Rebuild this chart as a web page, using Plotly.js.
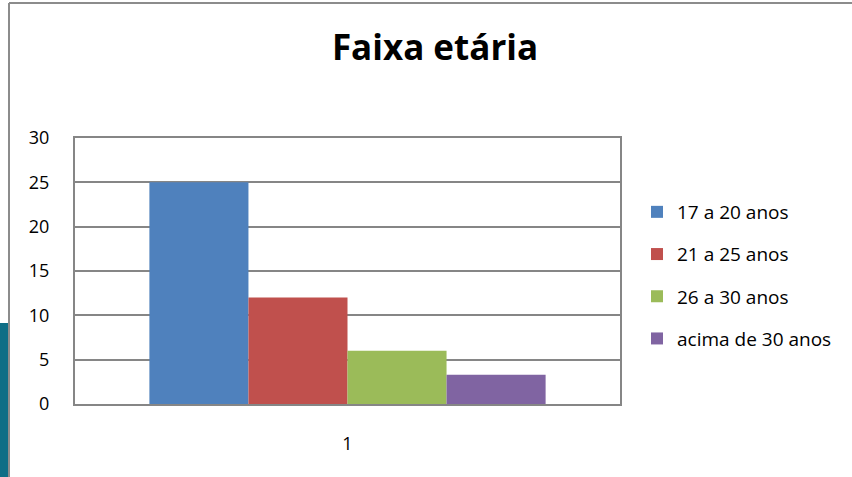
<!DOCTYPE html>
<html>
<head>
<meta charset="utf-8">
<script src="https://cdn.plot.ly/plotly-3.0.1.min.js"></script>
<style>
  html, body { margin: 0; padding: 0; background: #ffffff; }
  #chart { width: 852px; height: 477px; }
</style>
</head>
<body>
<div id="chart"></div>
<script>
const chartTitle = "Faixa etária";
const categories = ["1"];
const seriesNames = ["17 a 20 anos", "21 a 25 anos", "26 a 30 anos", "acima de 30 anos"];
const seriesValues = [[25], [12], [6], [3.3]];
const seriesColors = ["#4F81BD", "#C0504D", "#9BBB59", "#8064A2"];
const yTicks = [0, 5, 10, 15, 20, 25, 30];

const FONT = "'Open Sans', 'Noto Sans', sans-serif";

const traces = seriesNames.map((name, i) => ({
  type: "bar",
  name: name,
  x: categories,
  y: seriesValues[i],
  marker: { color: seriesColors[i], line: { width: 0 } },
  legendgroup: "g" + i,
  hoverinfo: "skip"
}));

// plot area: x 75..620, y 138..404 (px)
const L = 75, R = 620, T = 138, B = 404, W = 852, H = 477;
const px = v => (v - L) / (R - L);
const py = v => (B - v) / (B - T);

const layout = {
  width: W, height: H,
  margin: { l: L, r: W - R, t: T, b: H - B, pad: 0 },
  paper_bgcolor: "#ffffff",
  plot_bgcolor: "#ffffff",
  barmode: "group",
  bargap: 0.273,
  bargroupgap: 0,
  showlegend: true,
  title: {
    text: "<b>" + chartTitle + "</b>",
    font: { family: FONT, size: 35, color: "#000000" },
    x: 435 / W, xanchor: "center",
    y: 1 - 48 / H, yanchor: "middle",
    xref: "container", yref: "container"
  },
  xaxis: {
    type: "category",
    range: [-0.5, 0.5],
    showgrid: false,
    showline: true, linecolor: "#868686", linewidth: 2, mirror: true,
    ticks: "", ticklabelstandoff: 22,
    tickfont: { family: FONT, size: 18, color: "#000000" },
    zeroline: false, fixedrange: true
  },
  yaxis: {
    range: [0, 30],
    tickvals: yTicks,
    ticktext: yTicks.map(String),
    showgrid: true, gridcolor: "#868686", gridwidth: 1.8,
    showline: true, linecolor: "#868686", linewidth: 2, mirror: true,
    zeroline: false,
    ticks: "", ticklabelstandoff: 20,
    tickfont: { family: FONT, size: 18, color: "#000000" },
    fixedrange: true
  },
  legend: {
    x: px(637), xanchor: "left",
    y: py(193), yanchor: "top",
    traceorder: "grouped",
    tracegroupgap: 14.5,
    font: { family: FONT, size: 19, color: "#000000" },
    bgcolor: "rgba(0,0,0,0)",
    borderwidth: 0
  },
  shapes: [
    // teal strip at left bottom
    { type: "rect", xref: "paper", yref: "paper",
      x0: px(-2), x1: px(8.5), y0: py(323), y1: py(480),
      fillcolor: "#0E6E86", line: { width: 0 }, layer: "below" },
    // outer frame lines
    { type: "line", xref: "paper", yref: "paper",
      x0: px(9), x1: px(9), y0: py(3), y1: py(480),
      line: { color: "#8C8C8C", width: 2 } },
    { type: "line", xref: "paper", yref: "paper",
      x0: px(9), x1: px(856), y0: py(3), y1: py(3),
      line: { color: "#8C8C8C", width: 2 } }
  ]
};

Plotly.newPlot("chart", traces, layout, { displayModeBar: false, staticPlot: true });
</script>
</body>
</html>
